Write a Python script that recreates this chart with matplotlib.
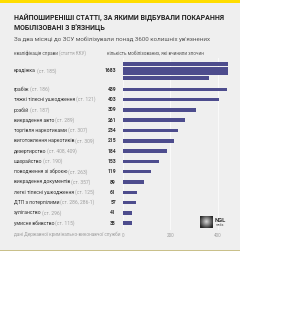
import numpy as np
import matplotlib
matplotlib.use("Agg")
import matplotlib.pyplot as plt
from matplotlib.patches import Rectangle

plt.rcParams['font.family'] = ['Roboto', 'DejaVu Sans']

# ---- data ----
names = ["крадіжка", "грабіж", "тяжкі тілесні ушкодження", "розбій", "викрадення авто",
         "торгівля наркотиками", "виготовлення наркотиків", "дезертирство", "шахрайство",
         "поводження зі зброєю", "викрадення документів", "легкі тілесні ушкодження",
         "ДТП з потерпілими", "хуліганство", "умисне вбивство"]
articles = ["(ст. 185)", "(ст. 186)", "(ст. 121)", "(ст. 187)", "(ст. 289)", "(ст. 307)",
            "(ст. 309)", "(ст. 408, 409)", "(ст. 190)", "(ст. 263)", "(ст. 357)", "(ст. 125)",
            "(ст. 286, 286-1)", "(ст. 296)", "(ст. 115)"]
values = [1683, 439, 403, 309, 261, 234, 215, 184, 153, 119, 89, 61, 57, 41, 38]
tick_values = [0, 200, 400]

title = "НАЙПОШИРЕНІШІ СТАТТІ, ЗА ЯКИМИ ВІДБУВАЛИ ПОКАРАННЯ\nМОБІЛІЗОВАНІ З В'ЯЗНИЦЬ"
subtitle = "За два місяці до ЗСУ мобілізували понад 3600 колишніх ув'язнених"
head_left = "кваліфікація справи"
head_left2 = "(стаття ККУ)"
head_right = "кількість мобілізованих, які вчинили злочин"
source = "дані Державної кримінально-виконавчої служби"

# ---- layout ----
W, H = 300, 313
BAR = "#4d4c8d"
DARK = "#333333"
GREY = "#a0a0a0"
PANEL = "#efefef"
wrap = 440  # wrapping width for the very long first bar
FS = 3.6

fig = plt.figure(figsize=(W / 100, H / 100), dpi=100)
fig.patch.set_facecolor("white")

def fx(x):
    return x / W

def fy(y):
    return 1 - y / H

# panel & yellow band
fig.patches.append(Rectangle((0, fy(250)), fx(240), fy(3) - fy(250), transform=fig.transFigure,
                             facecolor=PANEL, edgecolor="none", zorder=-10))
fig.patches.append(Rectangle((0, fy(3)), fx(240), fy(0) - fy(3), transform=fig.transFigure,
                             facecolor="#ffdd00", edgecolor="none", zorder=-10))
fig.patches.append(Rectangle((0, fy(250.8)), fx(240), fy(250) - fy(250.8), transform=fig.transFigure,
                             facecolor="#c9c08a", edgecolor="none", zorder=-10))

renderer = fig.canvas.get_renderer()

def text_width(s, **kw):
    tmp = fig.text(0, 0, s, **kw)
    w = tmp.get_window_extent(renderer).width
    tmp.remove()
    return w

# texts
fig.text(fx(13.5), fy(14), title, fontsize=5.0, fontweight="bold", color="#222222",
         va="top", ha="left", linespacing=1.3)
fig.text(fx(13.5), fy(39.5), subtitle, fontsize=4.45, color="#555555", va="center", ha="left")
fig.text(fx(13.5), fy(53.5), head_left, fontsize=3.3, color="#555555", va="center", ha="left")
wl = text_width(head_left + " ", fontsize=3.3)
fig.text(fx(13.5 + wl), fy(53.5), head_left2, fontsize=3.3, color=GREY, va="center", ha="left")
fig.text(fx(107), fy(53.5), head_right, fontsize=3.3, color="#555555", va="center", ha="left")
fig.text(fx(13.5), fy(234), source, fontsize=3.3, color=GREY, va="center", ha="left")

# bar axes: data y = pixel row from top
x0_px, scale = 122.7, 0.2383
xmax = 460
ax = fig.add_axes([fx(x0_px), fy(230), (xmax * scale) / W, (230 - 58) / H])
ax.set_xlim(0, xmax)
ax.set_ylim(230, 58)
ax.patch.set_alpha(0)
for s in ax.spines.values():
    s.set_visible(False)

rows_y = [71] + [89.3 + 10.3 * i for i in range(len(values) - 1)]
bar_h = 3.6

# first bar wrapped into rows
segs = []
rem = values[0]
while rem > 0:
    segs.append(min(rem, wrap))
    rem -= wrap
n = len(segs)
pitch = 4.5
for k, s in enumerate(segs):
    yk = rows_y[0] - pitch * (n - 1) / 2 + pitch * k
    ax.barh(yk, s, height=bar_h, color=BAR, zorder=3)
ax.barh(rows_y[1:], values[1:], height=bar_h, color=BAR, zorder=3)

ax.set_xticks(tick_values)
ax.set_xticklabels([str(v) for v in tick_values])
ax.tick_params(axis="x", length=0, labelsize=3.3, labelcolor=GREY, pad=2)
ax.set_yticks([])
ax.grid(axis="x", color="#f9f9f9", lw=0.8, zorder=1)

# labels
for name, art, val, y in zip(names, articles, values, rows_y):
    fig.text(fx(13.5), fy(y), name, fontsize=FS, color=DARK, va="center", ha="left")
    w = text_width(name + " ", fontsize=FS)
    fig.text(fx(13.5 + w), fy(y), art, fontsize=FS, color=GREY, va="center", ha="left")
    fig.text(fx(116), fy(y), str(val), fontsize=FS, color=DARK, fontweight="bold",
             va="center", ha="right")

# logo
lax = fig.add_axes([fx(200), fy(228), fx(12.5), fy(216) - fy(228)])
gx, gy = np.meshgrid(np.linspace(-1, 1, 30), np.linspace(-1, 1, 30))
r = np.sqrt(gx ** 2 + gy ** 2)
lax.imshow(np.clip(0.85 - 0.6 * r, 0.15, 1), cmap="gray", vmin=0, vmax=1, aspect="auto")
lax.axis("off")
fig.text(fx(215), fy(220.5), "NGL", fontsize=4.2, color="#333333", fontweight="bold", va="center", ha="left")
fig.text(fx(215.5), fy(225.5), "media", fontsize=2.2, color="#555555", va="center", ha="left")

fig.savefig("out.png", dpi=100, facecolor=fig.get_facecolor())
